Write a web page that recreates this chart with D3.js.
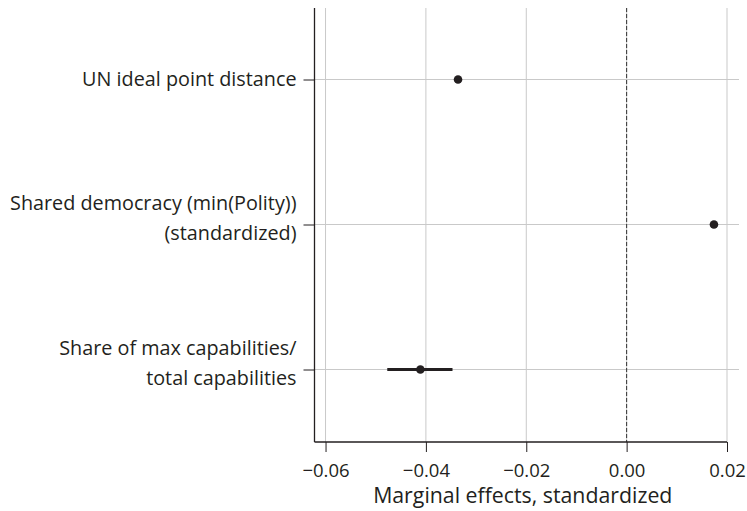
<!DOCTYPE html>
<html>
<head>
<meta charset="utf-8">
<script src="https://cdn.jsdelivr.net/npm/d3@7"></script>
<style>
  body { margin: 0; background: #fff; }
  svg { display: block; }
  text { font-family: "Open Sans", "Noto Sans", sans-serif; fill: #231f20; }
</style>
</head>
<body>
<svg id="chart" width="747" height="511"></svg>
<script>
// Coefficient labels (top to bottom), one entry per line of text
const variables = [
  ["UN ideal point distance"],
  ["Shared democracy (min(Polity))", "(standardized)"],
  ["Share of max capabilities/", "total capabilities"]
];
// Marginal effect estimates and confidence bounds
const estimates = [-0.0336, 0.0174, -0.0411];
const lowerBounds = [-0.0336, 0.0174, -0.0477];
const upperBounds = [-0.0336, 0.0174, -0.0347];
const xTicks = [-0.06, -0.04, -0.02, 0.00, 0.02];
const xTitle = "Marginal effects, standardized";

const svg = d3.select("#chart");
const plotLeft = 314.5, plotRight = 727, plotTop = 8, plotBottom = 442;
const gridRight = 739;

const x = d3.scaleLinear().domain([-0.0622, 0.02]).range([plotLeft, plotRight]);
const y = d3.scalePoint().domain(d3.range(variables.length)).range([79.5, 369.5]);

const fmt = v => (v < 0 ? "\u2212" : "") + Math.abs(v).toFixed(2);

// vertical grid lines
svg.append("g").selectAll("line").data(xTicks).join("line")
  .attr("x1", d => x(d)).attr("x2", d => x(d))
  .attr("y1", plotTop).attr("y2", plotBottom)
  .attr("stroke", "#c9c9c9").attr("stroke-width", 1);

// horizontal grid lines
svg.append("g").selectAll("line").data(d3.range(variables.length)).join("line")
  .attr("x1", plotLeft).attr("x2", gridRight)
  .attr("y1", d => y(d)).attr("y2", d => y(d))
  .attr("stroke", "#c9c9c9").attr("stroke-width", 1);

// zero reference line
svg.append("line")
  .attr("x1", x(0)).attr("x2", x(0))
  .attr("y1", plotTop).attr("y2", plotBottom)
  .attr("stroke", "#333").attr("stroke-width", 1)
  .attr("stroke-dasharray", "4,2");

// x axis
const xAxis = d3.axisBottom(x).tickValues(xTicks).tickFormat(fmt).tickSize(10);
const gx = svg.append("g").attr("transform", `translate(0,${plotBottom})`).call(xAxis);
gx.select(".domain").attr("d", `M${plotLeft},0H${plotRight}`).attr("stroke", "#231f20").attr("stroke-width", 1.3);
gx.selectAll(".tick line").attr("stroke", "#231f20").attr("stroke-width", 1);
gx.selectAll(".tick text")
  .attr("font-size", 18.5).attr("font-family", null).attr("fill", "#231f20")
  .attr("y", 35).attr("dy", 0);

// y axis
const yAxis = d3.axisLeft(y).tickSize(11).tickFormat("");
const gy = svg.append("g").attr("transform", `translate(${plotLeft},0)`).call(yAxis);
gy.select(".domain").attr("d", `M0,${plotTop}V${plotBottom}`).attr("stroke", "#231f20").attr("stroke-width", 1.3);
gy.selectAll(".tick line").attr("stroke", "#231f20").attr("stroke-width", 1);

// y labels, multi-line, right aligned
const lbl = svg.append("g").selectAll("text").data(variables).join("text")
  .attr("text-anchor", "end")
  .attr("font-size", 19.8)
  .attr("transform", (d, i) => `translate(${plotLeft - 18},${y(i)})`);
lbl.selectAll("tspan").data(d => d).join("tspan")
  .attr("x", 0)
  .attr("y", (t, j, nodes) => {
    const n = nodes.length;
    return n === 1 ? 0 : (j === 0 ? -21 : 9);
  })
  .attr("dy", "0.35em")
  .text(t => t);

// confidence intervals
svg.append("g").selectAll("line").data(estimates).join("line")
  .attr("x1", (d, i) => x(lowerBounds[i])).attr("x2", (d, i) => x(upperBounds[i]))
  .attr("y1", (d, i) => y(i)).attr("y2", (d, i) => y(i))
  .attr("stroke", "#231f20").attr("stroke-width", 3);

// point estimates
svg.append("g").selectAll("circle").data(estimates).join("circle")
  .attr("cx", d => x(d)).attr("cy", (d, i) => y(i)).attr("r", 4.3)
  .attr("fill", "#231f20");

// x axis title
svg.append("text")
  .attr("x", (plotLeft + plotRight) / 2 + 2).attr("y", 503)
  .attr("text-anchor", "middle").attr("font-size", 21.3)
  .text(xTitle);
</script>
</body>
</html>
